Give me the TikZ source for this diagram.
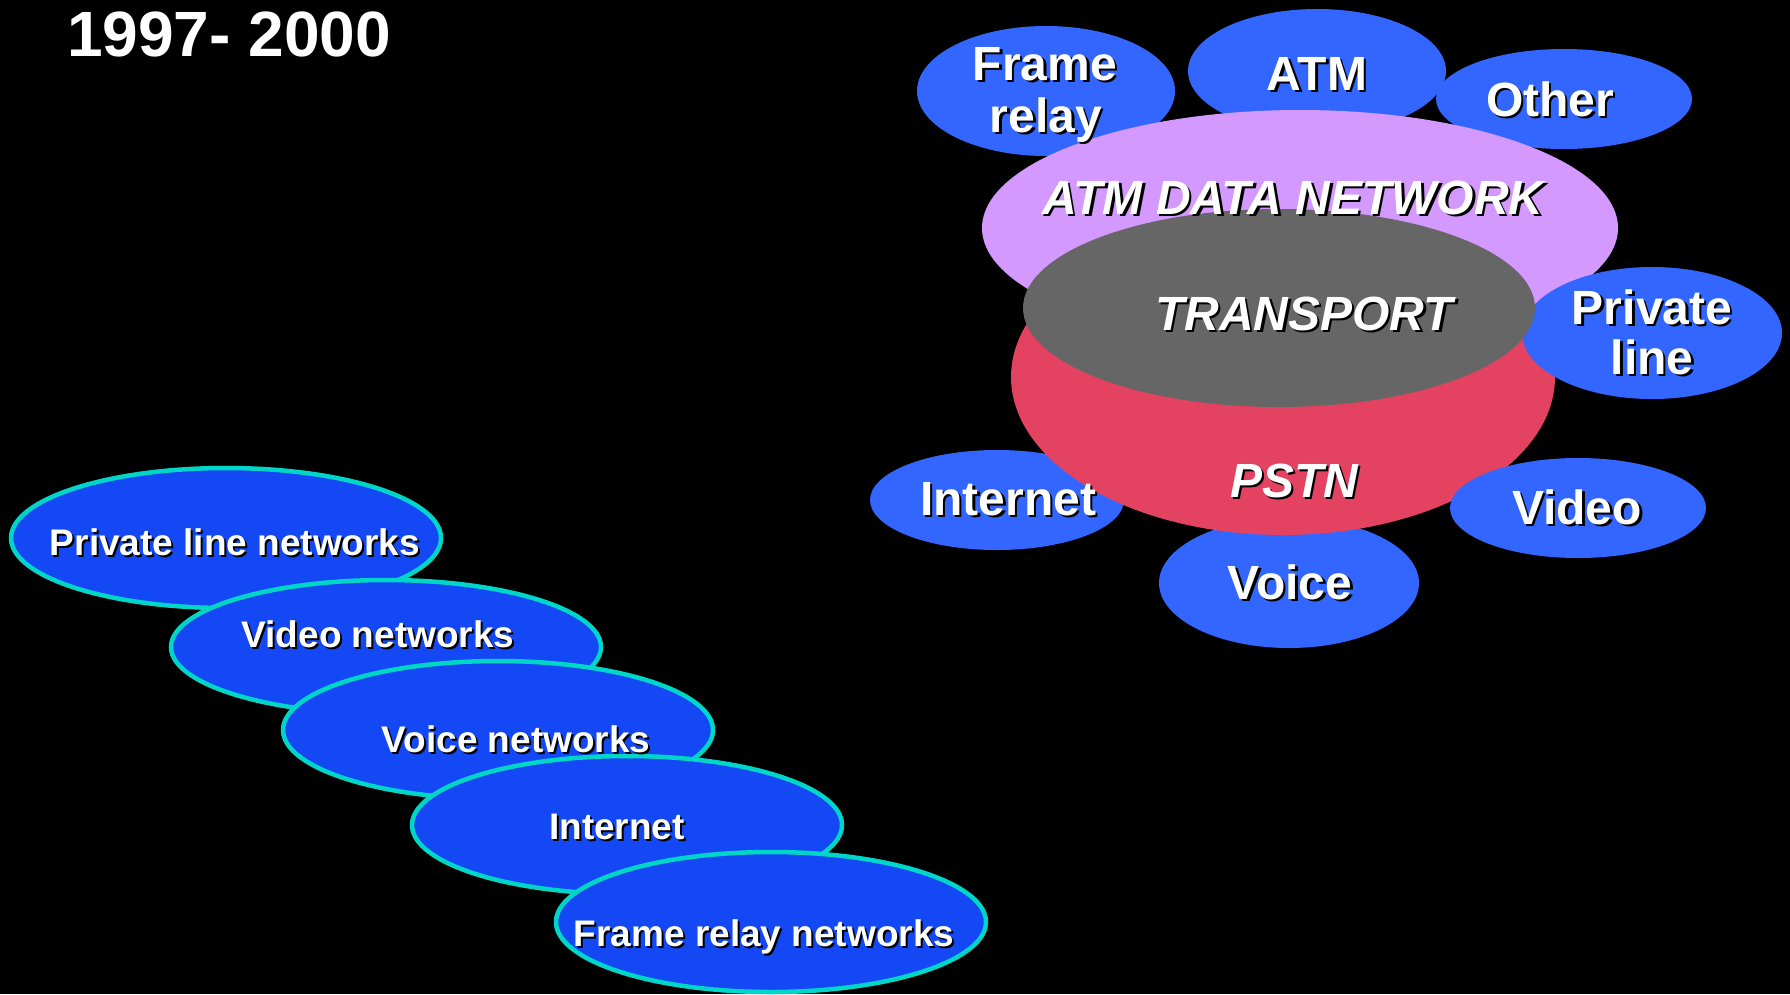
\documentclass[tikz,border=0pt]{standalone}
\usepackage{fontspec}
\setmainfont{Liberation Sans}
\usetikzlibrary{shapes.geometric}
\definecolor{bluer}{RGB}{51,102,255}
\definecolor{bluel}{RGB}{20,72,245}
\definecolor{cyanb}{RGB}{0,214,200}
\definecolor{lav}{RGB}{212,153,255}
\definecolor{pstnred}{RGB}{227,66,96}
\definecolor{tgray}{RGB}{102,102,102}
\newcommand\shd[2][2.5pt]{\makebox[0pt][l]{\kern#1\raisebox{-#1}{\color{black}#2}}#2}
\begin{document}
\begin{tikzpicture}[x=1pt,y=-1pt,
  oval/.style={ellipse, inner sep=0pt, draw=none},
  rb/.style={oval, fill=bluer},
  lb/.style={oval, fill=bluel, draw=cyanb, line width=4.5pt},
  big/.style={text=white, inner sep=0pt, anchor=base, font=\fontsize{48}{52}\selectfont\bfseries},
  bigi/.style={big, font=\fontsize{48}{52}\selectfont\bfseries\itshape},
  small/.style={text=white, inner sep=0pt, anchor=base, font=\fontsize{37}{40}\selectfont\bfseries}]
\fill[black] (0,0) rectangle (1790,994);
\useasboundingbox (0,0) rectangle (1790,994);
% right cluster
\node[rb, minimum width=258, minimum height=130] (fr) at (1046,91) {};
\node[rb, minimum width=256, minimum height=100] (oth) at (1564,99) {};
\node[rb, minimum width=258, minimum height=124] (atm) at (1317,71) {};
\node[oval, fill=lav, minimum width=636, minimum height=236] (adn) at (1300,228) {};
\node[rb, minimum width=254, minimum height=100] (inr) at (997,500) {};
\node[rb, minimum width=260, minimum height=130] (voi) at (1289,583) {};
\node[oval, fill=pstnred, minimum width=544, minimum height=316] (pstn) at (1283,377) {};
\node[rb, minimum width=260, minimum height=132] (pl) at (1652,333) {};
\node[rb, minimum width=256, minimum height=100] (vid) at (1578,508) {};
\node[oval, fill=tgray, minimum width=512, minimum height=198] (tr) at (1279,308) {};
% left cluster
\node[lb, minimum width=430, minimum height=140] (l1) at (226,538) {};
\node[lb, minimum width=430, minimum height=134] (l2) at (386,647) {};
\node[lb, minimum width=430, minimum height=138] (l3) at (498,730) {};
\node[lb, minimum width=430, minimum height=138] (l4) at (627,825) {};
\node[lb, minimum width=430, minimum height=140] (l5) at (771,922) {};
% texts
\node[text=white, inner sep=0pt, anchor=base, font=\fontsize{64}{68}\selectfont\bfseries] (title) at (229,56) {1997- 2000};
\node[big] (tfr1) at (1045,80) {\shd{Frame}};
\node[big] (tfr2) at (1046,132) {\shd{relay}};
\node[big] (tatm) at (1317,90) {\shd{ATM}};
\node[big] (toth) at (1550,116) {\shd{Other}};
\node[bigi] (tadn) at (1293,214) {\shd{ATM DATA NETWORK}};
\node[bigi] (ttr) at (1304,330) {\shd{TRANSPORT}};
\node[bigi] (tpstn) at (1294,497) {\shd{PSTN}};
\node[big] (tpl1) at (1652,324) {\shd{Private}};
\node[big] (tpl2) at (1652,374) {\shd{line}};
\node[big] (tinr) at (1008,515) {\shd{Internet}};
\node[big] (tvid) at (1577,524) {\shd{Video}};
\node[big] (tvoi) at (1290,599) {\shd{Voice}};
\node[small] (tl1) at (235,555) {\shd[2pt]{Private line networks}};
\node[small] (tl2) at (378,647) {\shd[2pt]{Video networks}};
\node[small] (tl3) at (516,752) {\shd[2pt]{Voice networks}};
\node[small] (tl4) at (617,839) {\shd[2pt]{Internet}};
\node[small] (tl5) at (764,946) {\shd[2pt]{Frame relay networks}};
\end{tikzpicture}
\end{document}
